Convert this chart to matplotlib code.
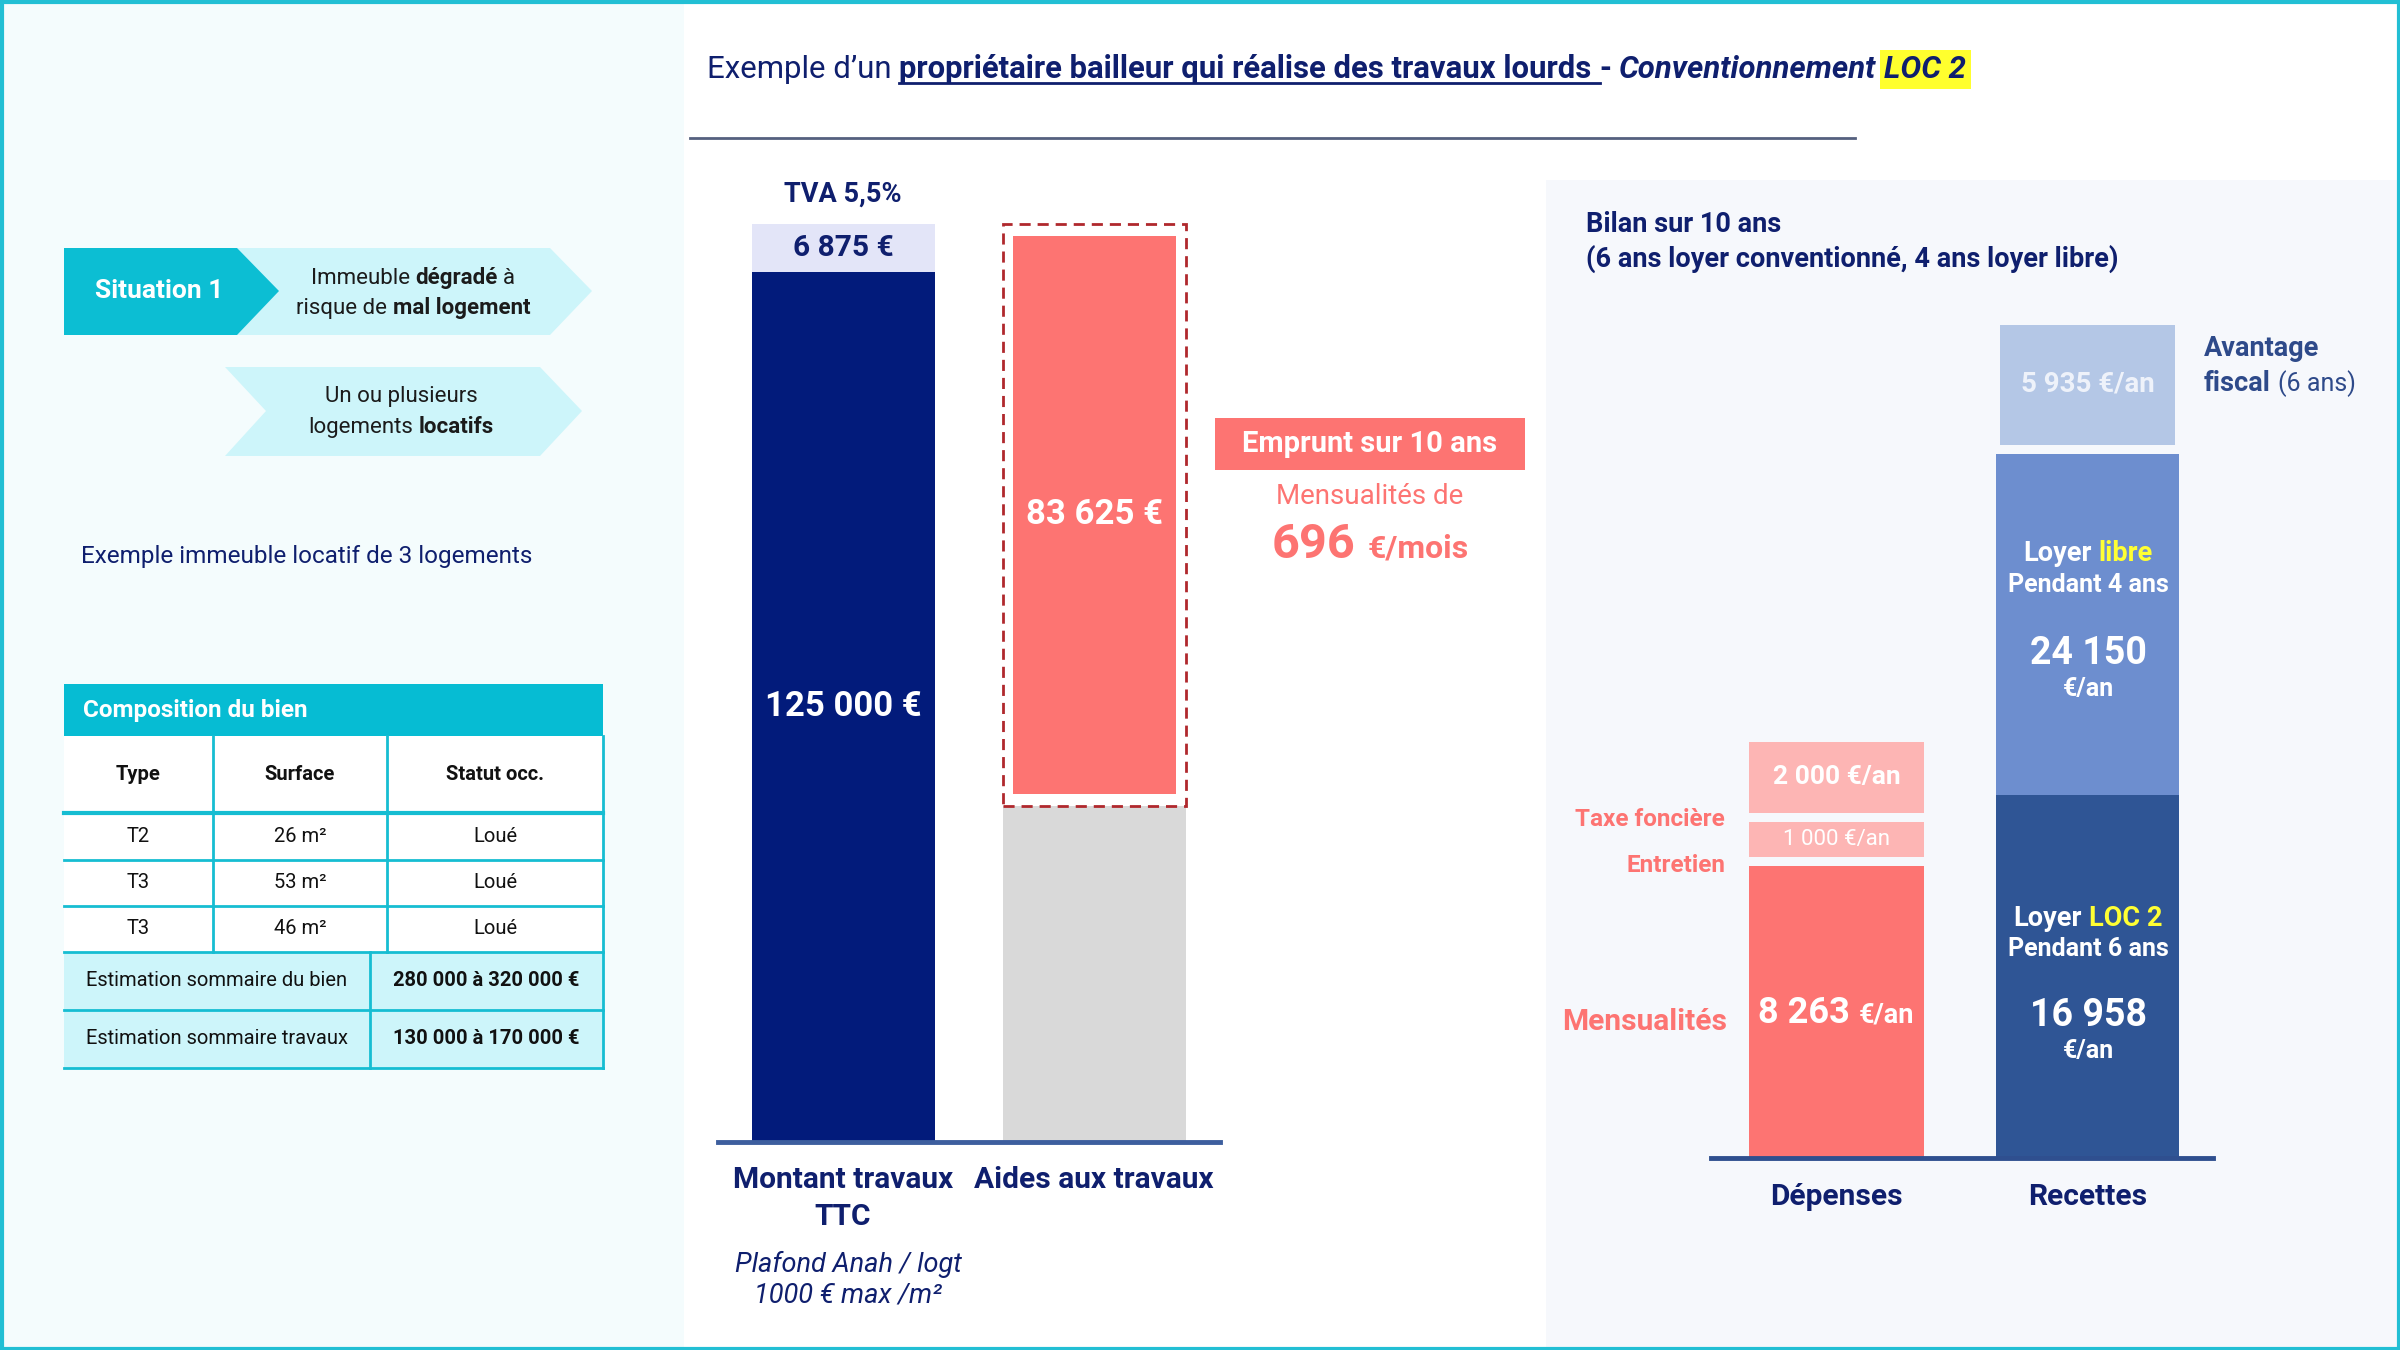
import matplotlib
matplotlib.use("Agg")
import matplotlib.pyplot as plt
from matplotlib.patches import Rectangle, Polygon

plt.rcParams["font.family"] = ["Roboto", "DejaVu Sans"]

# ---------- données ----------
composition_types = ["T2", "T3", "T3"]
composition_surfaces = ["26 m²", "53 m²", "46 m²"]
composition_statuts = ["Loué", "Loué", "Loué"]
composition_entetes = ["Type", "Surface", "Statut occ."]
estimations = ["Estimation sommaire du bien", "Estimation sommaire travaux"]
estimations_montants = ["280 000 à 320 000 €", "130 000 à 170 000 €"]

montant_travaux = 125000
tva = 6875
aides_travaux = 48250
emprunt = 83625
mensualite_mois = 696

depenses_labels = ["Mensualités", "Entretien", "Taxe foncière"]
depenses_valeurs = [8263, 1000, 2000]

recettes_valeurs = [16958, 24150, 5935]
# hauteurs dessinées : la colonne recettes du schéma n'est pas à l'échelle
recettes_hauteurs = [10270, 9650, 3400]

# ---------- couleurs ----------
NAVY = "#0f1f6e"
BAR_NAVY = "#021b7b"
LAVANDE = "#e3e5f8"
SAUMON = "#fd7472"
ROSE = "#fdb5b4"
GRIS = "#d9d9d9"
CYAN = "#0cbed3"
CYAN_CLAIR = "#cdf5fa"
BLEU_FONCE = "#2f5595"
BLEU_MOYEN = "#6d8ecf"
BLEU_CLAIR = "#b4c7e6"
BLEU_TEXTE = "#2e4a8a"
JAUNE = "#ffff33"

W, H = 2400, 1350
fig = plt.figure(figsize=(24, 13.5), dpi=100)
fig.patch.set_facecolor("white")

ax_bg = fig.add_axes([0, 0, 1, 1], zorder=-1)
ax_bg.set_xlim(0, W)
ax_bg.set_ylim(H, 0)
ax_bg.axis("off")

ax_t = fig.add_axes([0, 0, 1, 1], zorder=5)
ax_t.set_xlim(0, W)
ax_t.set_ylim(H, 0)
ax_t.axis("off")

rend = fig.canvas.get_renderer()


def texte_riche(ax, x, y, morceaux, ha="left", largeur=None):
    objets = [ax.text(0, y, s, va="baseline", ha="left", **st) for s, st in morceaux]

    def mesure():
        ls = [o.get_window_extent(rend).width for o in objets]
        es = [0.25 * o.get_fontsize() * fig.dpi / 72 for o in objets]
        return ls, es, sum(ls) + sum(es[:-1])

    ls, es, total = mesure()
    if largeur is not None:
        for o in objets:
            o.set_fontsize(o.get_fontsize() * largeur / total)
        ls, es, total = mesure()
    x0 = x - total / 2 if ha == "center" else x
    pos = []
    for o, l, e in zip(objets, ls, es):
        o.set_x(x0)
        pos.append((x0, x0 + l))
        x0 += l + e
    return pos


# ---------- fonds ----------
ax_bg.add_patch(Rectangle((0, 0), 684, H, color="#f4fcfd", lw=0))
ax_bg.add_patch(Rectangle((1546, 180), W - 1546, H - 180, color="#f6f8fc", lw=0))
ax_bg.add_patch(Rectangle((1.5, 1.5), W - 3, H - 3, fill=False, ec="#22bfd4", lw=3))

# ---------- titre ----------
pos = texte_riche(ax_t, 707, 78, [
    ("Exemple d’un", dict(color=NAVY, fontsize=26)),
    ("propriétaire bailleur qui réalise des travaux lourds", dict(color=NAVY, fontsize=26, weight="bold")),
    ("-", dict(color=NAVY, fontsize=26, weight="bold")),
    ("Conventionnement", dict(color=NAVY, fontsize=26, weight="bold", style="italic")),
    ("LOC 2", dict(color=NAVY, fontsize=26, weight="bold", style="italic",
                   bbox=dict(boxstyle="square,pad=0.15", fc="#ffff2e", ec="none"))),
], largeur=1266)
ax_t.plot([pos[1][0], pos[1][1] + 8], [83, 83], color=NAVY, lw=2)
ax_bg.plot([690, 1855], [138, 138], color="#55607f", lw=2)

# ---------- panneau gauche ----------
ax_bg.add_patch(Polygon([(237, 248), (550, 248), (592, 291), (550, 335), (237, 335)],
                        closed=True, color=CYAN_CLAIR, lw=0))
ax_bg.add_patch(Polygon([(64, 248), (237, 248), (279, 291), (237, 335), (64, 335)],
                        closed=True, color=CYAN, lw=0))
ax_bg.add_patch(Polygon([(225, 367), (540, 367), (582, 411), (540, 456), (225, 456), (266, 411)],
                        closed=True, color=CYAN_CLAIR, lw=0))
ax_t.text(159, 291, "Situation 1", color="white", fontsize=19, weight="bold", ha="center", va="center")

noir = "#1b1b1b"
fs_ch = 16
texte_riche(ax_t, 413, 284, [("Immeuble", dict(color=noir, fontsize=fs_ch)),
                             ("dégradé", dict(color=noir, fontsize=fs_ch, weight="bold")),
                             ("à", dict(color=noir, fontsize=fs_ch))], ha="center")
texte_riche(ax_t, 413, 314, [("risque de", dict(color=noir, fontsize=fs_ch)),
                             ("mal logement", dict(color=noir, fontsize=fs_ch, weight="bold"))], ha="center")
texte_riche(ax_t, 401, 402, [("Un ou plusieurs", dict(color=noir, fontsize=fs_ch))], ha="center")
texte_riche(ax_t, 401, 433, [("logements", dict(color=noir, fontsize=fs_ch)),
                             ("locatifs", dict(color=noir, fontsize=fs_ch, weight="bold"))], ha="center")

ax_t.text(81, 557, "Exemple immeuble locatif de 3 logements", color=NAVY, fontsize=17.5, va="center")

# tableau
tx0, tx1 = 64, 603
cols = [64, 213, 387, 603]
lignes = [736, 813, 860, 906, 952]
lignes_est = [952, 1010, 1068]
ax_bg.add_patch(Rectangle((tx0, 684), tx1 - tx0, 52, color="#06bcd3", lw=0))
ax_bg.add_patch(Rectangle((tx0, 736), tx1 - tx0, 216, color="white", lw=0))
ax_bg.add_patch(Rectangle((tx0, 952), tx1 - tx0, 116, color=CYAN_CLAIR, lw=0))
ax_t.text(83, 710, "Composition du bien", color="white", fontsize=17.5, weight="bold", va="center")
LC = "#16bdd2"
for i, y in enumerate(lignes[1:] + lignes_est[1:]):
    ax_bg.plot([tx0, tx1], [y, y], color=LC, lw=3 if i == 0 else 2)
for x in cols[1:3]:
    ax_bg.plot([x, x], [736, 952], color=LC, lw=2)
ax_bg.plot([370, 370], [952, 1068], color=LC, lw=2)
ax_bg.plot([tx1, tx1], [736, 1068], color=LC, lw=2)

fs_tab = 14.5
centres_x = [(cols[i] + cols[i + 1]) / 2 for i in range(3)]
for cx, ent in zip(centres_x, composition_entetes):
    ax_t.text(cx, 774, ent, color="#111111", fontsize=fs_tab, weight="bold", ha="center", va="center")
for r, (t, s, st) in enumerate(zip(composition_types, composition_surfaces, composition_statuts)):
    cy = (lignes[r + 1] + lignes[r + 2]) / 2
    for cx, val in zip(centres_x, (t, s, st)):
        ax_t.text(cx, cy, val, color="#111111", fontsize=fs_tab, ha="center", va="center")
for r, (lab, mt) in enumerate(zip(estimations, estimations_montants)):
    cy = (lignes_est[r] + lignes_est[r + 1]) / 2
    ax_t.text(217, cy, lab, color="#111111", fontsize=fs_tab, ha="center", va="center")
    ax_t.text(486, cy, mt, color="#111111", fontsize=fs_tab, weight="bold", ha="center", va="center")

# ---------- graphique travaux ----------
ax_m = fig.add_axes([718 / W, (H - 1142) / H, 502 / W, 1114 / H])
ax_m.set_xlim(-0.5, 1.5)
ax_m.set_ylim(0, 160000)
ax_m.axis("off")
lw_bar = 0.73
ax_m.bar(0, montant_travaux, width=lw_bar, color=BAR_NAVY)
ax_m.bar(0, tva, bottom=montant_travaux, width=lw_bar, color=LAVANDE)
ax_m.bar(1, aides_travaux, width=lw_bar, color=GRIS)
marge = 1700
ax_m.bar(1, emprunt - 2 * marge, bottom=aides_travaux + marge, width=0.65, color=SAUMON)
ax_m.add_patch(Rectangle((1 - lw_bar / 2, aides_travaux), lw_bar, emprunt, fill=False,
                         ec="#b0282d", lw=2, ls=(0, (4, 2.5))))
ax_m.axhline(0, color="#3d5e9e", lw=3.5, clip_on=False)

ax_m.text(0, montant_travaux / 2, "125 000 €", color="white", fontsize=25, weight="bold",
          ha="center", va="center")
ax_m.text(0, montant_travaux + tva / 2, "6 875 €", color=NAVY, fontsize=21.5, weight="bold",
          ha="center", va="center")
ax_m.text(1, aides_travaux + emprunt / 2, "83 625 €", color="white", fontsize=25, weight="bold",
          ha="center", va="center")
ax_t.text(843, 194, "TVA 5,5%", color=NAVY, fontsize=19.5, weight="bold", ha="center", va="center")

ax_bg.add_patch(Rectangle((1215, 418), 310, 52, color=SAUMON, lw=0))
ax_t.text(1370, 444, "Emprunt sur 10 ans", color="white", fontsize=21, weight="bold",
          ha="center", va="center")
ax_t.text(1370, 496, "Mensualités de", color=SAUMON, fontsize=20, ha="center", va="center")
texte_riche(ax_t, 1370, 558, [(str(mensualite_mois), dict(color=SAUMON, fontsize=35, weight="bold")),
                              ("€/mois", dict(color=SAUMON, fontsize=23, weight="bold"))], ha="center")

ax_t.text(843, 1180, "Montant travaux", color=NAVY, fontsize=21.5, weight="bold", ha="center", va="center")
ax_t.text(843, 1217, "TTC", color=NAVY, fontsize=21.5, weight="bold", ha="center", va="center")
ax_t.text(1094, 1180, "Aides aux travaux", color=NAVY, fontsize=21.5, weight="bold", ha="center", va="center")
ax_t.text(848, 1264, "Plafond Anah / logt", color=NAVY, fontsize=19.5, style="italic", ha="center", va="center")
ax_t.text(848, 1295, "1000 € max /m²", color=NAVY, fontsize=19.5, style="italic", ha="center", va="center")

# ---------- bilan sur 10 ans ----------
ax_t.text(1586, 225, "Bilan sur 10 ans", color=NAVY, fontsize=19.5, weight="bold", va="center")
ax_t.text(1586, 259, "(6 ans loyer conventionné, 4 ans loyer libre)", color=NAVY, fontsize=19.5,
          weight="bold", va="center")

ax_r = fig.add_axes([1711 / W, (H - 1158) / H, 502 / W, 1000 / H])
ax_r.set_xlim(-0.5, 1.5)
ax_r.set_ylim(0, 28300)
ax_r.axis("off")
ecart = 255

bas = 0
for val, col in zip(depenses_valeurs, [SAUMON, ROSE, ROSE]):
    ax_r.bar(0, val, bottom=bas, width=0.70, color=col)
    bas += val + ecart
bas_dep = [0, depenses_valeurs[0] + ecart, depenses_valeurs[0] + depenses_valeurs[1] + 2 * ecart]

bas = 0
for i, (h, col) in enumerate(zip(recettes_hauteurs, [BLEU_FONCE, BLEU_MOYEN, BLEU_CLAIR])):
    if i == 2:
        bas += ecart
    ax_r.bar(1, h, bottom=bas, width=0.73 if i < 2 else 0.70, color=col)
    bas += h
ax_r.axhline(0, color="#2f4f8f", lw=3.5, clip_on=False)

ax_r.text(0, bas_dep[2] + depenses_valeurs[2] / 2, "2 000 €/an", color="white", fontsize=19,
          weight="bold", ha="center", va="center")
ax_r.text(0, bas_dep[1] + depenses_valeurs[1] / 2, "1 000 €/an", color="white", fontsize=16,
          ha="center", va="center")
texte_riche(ax_t, 1836, 1023, [("8 263", dict(color="white", fontsize=26, weight="bold")),
                               ("€/an", dict(color="white", fontsize=19.5, weight="bold"))], ha="center")

ax_t.text(1725, 820, depenses_labels[2], color=SAUMON, fontsize=17.5, weight="bold", ha="right", va="center")
ax_t.text(1725, 866, depenses_labels[1], color=SAUMON, fontsize=17.5, weight="bold", ha="right", va="center")
ax_t.text(1727, 1022, depenses_labels[0], color=SAUMON, fontsize=21.5, weight="bold", ha="right", va="center")

def fmt(v):
    return f"{v:,}".replace(",", " ")

texte_riche(ax_t, 2088, 926, [("Loyer", dict(color="white", fontsize=19.5, weight="bold")),
                              ("LOC 2", dict(color=JAUNE, fontsize=19.5, weight="bold"))], ha="center")
ax_t.text(2088, 949, "Pendant 6 ans", color="white", fontsize=18, weight="bold", ha="center", va="center")
ax_t.text(2088, 1016, fmt(recettes_valeurs[0]), color="white", fontsize=27, weight="bold", ha="center", va="center")
ax_t.text(2088, 1051, "€/an", color="white", fontsize=18, weight="bold", ha="center", va="center")

texte_riche(ax_t, 2088, 561, [("Loyer", dict(color="white", fontsize=19.5, weight="bold")),
                              ("libre", dict(color=JAUNE, fontsize=19.5, weight="bold"))], ha="center")
ax_t.text(2088, 585, "Pendant 4 ans", color="white", fontsize=18, weight="bold", ha="center", va="center")
ax_t.text(2088, 654, fmt(recettes_valeurs[1]), color="white", fontsize=27, weight="bold", ha="center", va="center")
ax_t.text(2088, 689, "€/an", color="white", fontsize=18, weight="bold", ha="center", va="center")

ax_t.text(2088, 384, fmt(recettes_valeurs[2]) + " €/an", color="#eef2fa", fontsize=20, weight="bold",
          ha="center", va="center")
ax_t.text(2204, 349, "Avantage", color=BLEU_TEXTE, fontsize=19.5, weight="bold", va="center")
texte_riche(ax_t, 2204, 391, [("fiscal", dict(color=BLEU_TEXTE, fontsize=19.5, weight="bold")),
                              ("(6 ans)", dict(color=BLEU_TEXTE, fontsize=18))])

ax_t.text(1836, 1197, "Dépenses", color=NAVY, fontsize=21.5, weight="bold", ha="center", va="center")
ax_t.text(2088, 1197, "Recettes", color=NAVY, fontsize=21.5, weight="bold", ha="center", va="center")

fig.savefig("out.png", dpi=100)
